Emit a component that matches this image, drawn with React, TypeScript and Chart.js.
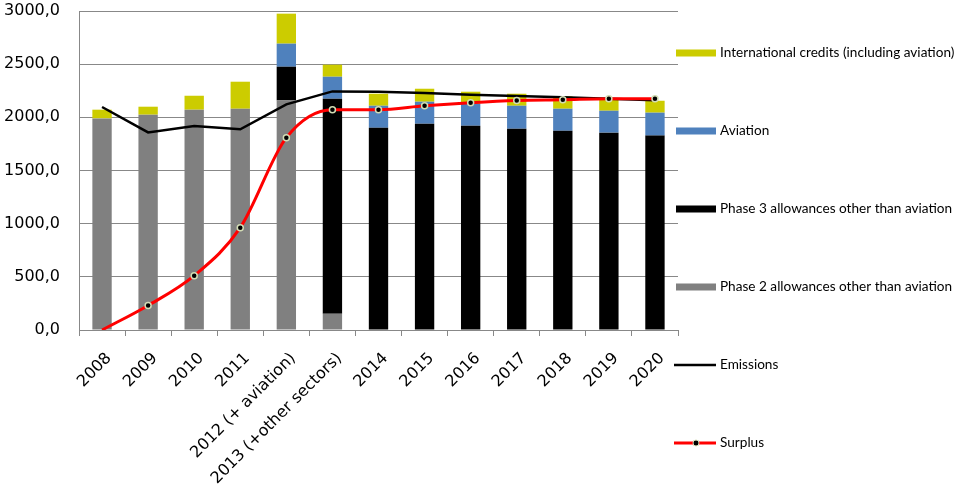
import React, { useEffect, useRef } from 'react';
import { Chart, registerables } from 'chart.js';

Chart.register(...registerables);

const categories = [
  '2008', '2009', '2010', '2011', '2012 (+ aviation)', '2013 (+other sectors)',
  '2014', '2015', '2016', '2017', '2018', '2019', '2020',
];

const phase2 = [1990, 2025, 2072, 2081, 2159, 153, 0, 0, 0, 0, 0, 0, 0];
const phase3 = [0, 0, 0, 0, 317, 2022, 1902, 1940, 1921, 1893, 1874, 1856, 1828];
const aviation = [0, 0, 0, 0, 217, 207, 207, 207, 207, 216, 207, 206, 216];
const credits = [82, 75, 131, 254, 282, 113, 113, 122, 113, 113, 116, 113, 112];
const emissions = [2097, 1858, 1918, 1887, 2122, 2244, 2241, 2229, 2213, 2200, 2188, 2175, 2160];
const surplus = [0, 231, 511, 962, 1809, 2072, 2072, 2109, 2138, 2159, 2166, 2175, 2175];

const C_GRAY = '#808080';
const C_BLACK = '#000000';
const C_BLUE = '#4f81bd';
const C_YELLOW = '#cccc00';
const C_RED = '#ff0000';
const C_MARK_RING = '#d3ddb5';
const C_GRID = '#888888';

const AXIS_FONT = { family: 'DejaVu Sans', size: 16 };

const legendPlugin = {
  id: 'sideLegend',
  afterDraw(chart: any) {
    const ctx = chart.ctx as CanvasRenderingContext2D;
    const ds = chart.data.datasets;
    const order = [3, 2, 1, 0, 4, 5];
    ctx.save();
    ctx.font = '13.6px Lato';
    ctx.textBaseline = 'middle';
    ctx.textAlign = 'left';
    order.forEach((di, i) => {
      const d = ds[di];
      const y = 53 + i * 78;
      if (d.type === 'line') {
        ctx.strokeStyle = d.borderColor;
        ctx.lineWidth = d.borderWidth;
        ctx.beginPath();
        ctx.moveTo(674, y);
        ctx.lineTo(716, y);
        ctx.stroke();
        if (d.label === 'Surplus') {
          ctx.beginPath();
          ctx.arc(696, y, 3, 0, Math.PI * 2);
          ctx.fillStyle = C_BLACK;
          ctx.fill();
          ctx.lineWidth = 1;
          ctx.strokeStyle = C_MARK_RING;
          ctx.stroke();
        }
      } else {
        ctx.fillStyle = d.backgroundColor;
        ctx.fillRect(676, y - 3.5, 40, 7);
      }
      ctx.fillStyle = '#000';
      ctx.fillText(d.label, 720, y);
    });
    ctx.restore();
  },
};

export default function App() {
  const ref = useRef<HTMLCanvasElement | null>(null);

  useEffect(() => {
    document.body.style.margin = '0';
    const canvas = ref.current;
    if (!canvas) return;
    const barCommon = {
      type: 'bar' as const,
      stack: 'bars',
      categoryPercentage: 1,
      barPercentage: 0.42,
      borderWidth: 0,
      order: 3,
    };
    const chart = new Chart(canvas, {
      type: 'bar',
      data: {
        labels: categories,
        datasets: [
          { ...barCommon, label: 'Phase 2 allowances other than aviation', data: phase2, backgroundColor: C_GRAY },
          { ...barCommon, label: 'Phase 3 allowances other than aviation', data: phase3, backgroundColor: C_BLACK },
          { ...barCommon, label: 'Aviation', data: aviation, backgroundColor: C_BLUE },
          { ...barCommon, label: 'International credits (including aviation)', data: credits, backgroundColor: C_YELLOW },
          {
            type: 'line', label: 'Emissions', data: emissions, stack: 'em',
            borderColor: C_BLACK, backgroundColor: C_BLACK, borderWidth: 2.5,
            pointRadius: 0, tension: 0, order: 2,
          },
          {
            type: 'line', label: 'Surplus', data: surplus, stack: 'sur',
            borderColor: C_RED, backgroundColor: C_BLACK, borderWidth: 3,
            pointRadius: (c: any) => (c.dataIndex === 0 ? 0 : 3),
            pointBackgroundColor: C_BLACK, pointBorderColor: C_MARK_RING, pointBorderWidth: 1.5,
            cubicInterpolationMode: 'monotone', order: 1,
          },
        ] as any,
      },
      options: {
        responsive: false,
        animation: false,
        layout: { padding: { top: 11, right: 292, left: 0, bottom: 0 } },
        plugins: { legend: { display: false }, tooltip: { enabled: false } },
        scales: {
          x: {
            stacked: true,
            grid: { drawOnChartArea: false, drawTicks: true, tickLength: 6, color: C_GRID, offset: true },
            border: { color: C_GRID, width: 1 },
            ticks: {
              autoSkip: false, minRotation: 45, maxRotation: 45, padding: 13, labelOffset: 7,
              color: '#000', font: AXIS_FONT,
            },
            afterFit: (s: any) => { s.height = 159; },
          },
          y: {
            stacked: true,
            min: 0, max: 3000,
            grid: { color: C_GRID, drawTicks: true, tickLength: 18, tickColor: 'rgba(0,0,0,0)' },
            border: { color: C_GRID, width: 1 },
            ticks: {
              stepSize: 500, padding: 1, color: '#000', font: AXIS_FONT,
              callback: (v: any) => Number(v).toFixed(1).replace('.', ','),
            },
            afterFit: (s: any) => { s.width = 79; },
          },
        },
      },
      plugins: [legendPlugin],
    });
    return () => chart.destroy();
  }, []);

  return <canvas ref={ref} width={970} height={489} style={{ display: 'block' }} />;
}
